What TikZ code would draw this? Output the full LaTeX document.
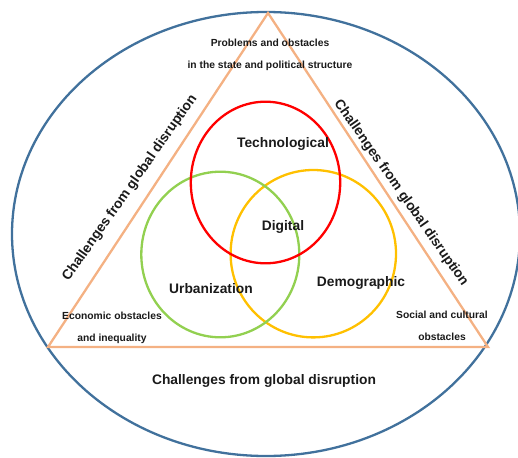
\documentclass[tikz,border=0pt]{standalone}
\usepackage{fontspec}
\setmainfont{Liberation Sans}
\definecolor{outerblue}{HTML}{41719C}
\definecolor{triorange}{HTML}{F4B183}
\definecolor{cred}{HTML}{FF0000}
\definecolor{cgreen}{HTML}{92D050}
\definecolor{cyellow}{HTML}{FFC000}
\definecolor{txt}{HTML}{1A1A1A}
\begin{document}
\begin{tikzpicture}[x=1pt,y=-1pt,
  outerline/.style={draw=outerblue,line width=2.3pt},
  triline/.style={draw=triorange,line width=2.3pt,line join=miter},
  ring/.style={line width=2.3pt},
  big/.style={font=\fontsize{13.8}{16}\selectfont\bfseries,text=txt,inner sep=0pt},
  small/.style={font=\fontsize{10.3}{22}\selectfont\bfseries,text=txt,align=center,inner sep=0pt}]
\useasboundingbox (0,0) rectangle (518,457);
\clip (0,0) rectangle (518,457);
\draw[outerline] (266,234) ellipse [x radius=254pt, y radius=222pt];
\draw[triline] (268,13) -- (48,347) -- (488,347) -- cycle;
\draw[ring,draw=cyellow] (313.3,253.7) ellipse [x radius=82.7pt, y radius=83.7pt];
\draw[ring,draw=cgreen] (220.3,254.5) ellipse [x radius=79pt, y radius=82.8pt];
\draw[ring,draw=cred] (265.5,182.5) ellipse [x radius=74.7pt, y radius=80.8pt];
\node[small] (top) at (270,55) {Problems and obstacles\\in the state and political structure};
\node[small] (econ) at (112,328) {Economic obstacles\\and inequality};
\node[small] (soc) at (442,326) {Social and cultural\\obstacles};
\node[big] (tech) at (283,144) {Technological};
\node[big] (dig) at (283,227) {Digital};
\node[big] (urb) at (211,289) {Urbanization};
\node[big] (dem) at (361,283) {Demographic};
\node[big] (bottom) at (264,381) {Challenges from global disruption};
\node[big,rotate=55] (left) at (130,188) {Challenges from global disruption};
\node[big,rotate=-55] (right) at (401,193) {Challenges from global disruption};
\end{tikzpicture}
\end{document}
